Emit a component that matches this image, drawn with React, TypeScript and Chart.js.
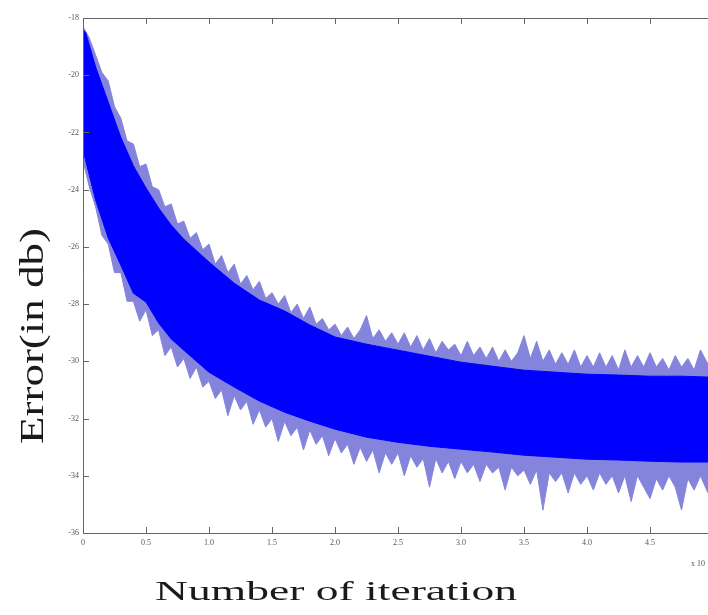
import React, { useEffect, useRef } from 'react';
import { Chart, registerables } from 'chart.js';

Chart.register(...registerables);

// ---- text ----
const X_TITLE = 'Number of iteration';
const Y_TITLE = 'Error(in db)';
const X_EXPONENT = 'x 10';
const X_EXPONENT_POWER = '4';

// ---- axes (x in units of 10^4 iterations, y in dB) ----
const X_MIN = 0;
const X_MAX = 4.96;
const X_STEP = 0.5;
const Y_MIN = -36;
const Y_MAX = -18;
const Y_STEP = 2;

// ---- dense core of the error band ----
const coreX = [0, 0.02, 0.1, 0.2, 0.3, 0.4, 0.5, 0.6, 0.7, 0.8, 1.0, 1.2, 1.4, 1.6, 1.8, 2.0, 2.25, 2.5, 2.75, 3.0, 3.25, 3.5, 3.75, 4.0, 4.25, 4.5, 4.75, 4.96];
const coreUpper = [-18.42, -18.49, -19.71, -20.94, -22.17, -23.17, -23.94, -24.64, -25.24, -25.73, -26.53, -27.27, -27.86, -28.24, -28.73, -29.15, -29.4, -29.61, -29.82, -30.03, -30.17, -30.31, -30.38, -30.45, -30.48, -30.52, -30.52, -30.55];
const coreLower = [-22.62, -22.97, -24.36, -25.69, -26.64, -27.62, -27.93, -28.66, -29.22, -29.61, -30.38, -30.9, -31.39, -31.78, -32.09, -32.37, -32.65, -32.83, -32.97, -33.07, -33.17, -33.28, -33.35, -33.42, -33.45, -33.49, -33.52, -33.52];

// ---- spiky outer extremes of the error band ----
const spikeX = [
  0, 0.05, 0.1, 0.15, 0.2, 0.25, 0.3, 0.35, 0.4, 0.45,
  0.5, 0.55, 0.6, 0.65, 0.7, 0.75, 0.8, 0.85, 0.9, 0.95,
  1.0, 1.05, 1.1, 1.15, 1.2, 1.25, 1.3, 1.35, 1.4, 1.45,
  1.5, 1.55, 1.6, 1.65, 1.7, 1.75, 1.8, 1.85, 1.9, 1.95,
  2.0, 2.05, 2.1, 2.15, 2.2, 2.25, 2.3, 2.35, 2.4, 2.45,
  2.5, 2.55, 2.6, 2.65, 2.7, 2.75, 2.8, 2.85, 2.9, 2.95,
  3.0, 3.05, 3.1, 3.15, 3.2, 3.25, 3.3, 3.35, 3.4, 3.45,
  3.5, 3.55, 3.6, 3.65, 3.7, 3.75, 3.8, 3.85, 3.9, 3.95,
  4.0, 4.05, 4.1, 4.15, 4.2, 4.25, 4.3, 4.35, 4.4, 4.45,
  4.5, 4.55, 4.6, 4.65, 4.7, 4.75, 4.8, 4.85, 4.9, 4.96,
];
const spikeUpper = [
  -18.3, -18.7, -19.3, -19.9, -20.2, -21.1, -21.5, -22.3, -22.4, -23.2,
  -23.1, -23.9, -24.0, -24.6, -24.5, -25.2, -25.1, -25.7, -25.5, -26.1,
  -25.9, -26.6, -26.3, -26.9, -26.6, -27.3, -27.0, -27.5, -27.2, -27.8,
  -27.6, -28.0, -27.7, -28.3, -28.0, -28.5, -28.1, -28.7, -28.5, -28.9,
  -28.7, -29.1, -28.8, -29.2, -28.9, -28.4, -29.2, -28.9, -29.3, -29.0,
  -29.4, -29.0, -29.5, -29.1, -29.6, -29.2, -29.7, -29.3, -29.6, -29.4,
  -29.8, -29.3, -29.8, -29.5, -29.9, -29.5, -30.0, -29.6, -30.0, -29.7,
  -29.1, -29.9, -29.3, -30.0, -29.6, -30.1, -29.7, -30.1, -29.6, -30.2,
  -29.8, -30.2, -29.7, -30.2, -29.8, -30.3, -29.6, -30.2, -29.8, -30.2,
  -29.7, -30.2, -29.9, -30.3, -29.8, -30.2, -29.9, -30.3, -29.6, -30.1,
];
const spikeLower = [
  -23.0, -23.9, -24.6, -25.6, -25.9, -26.9, -26.9, -27.9, -27.9, -28.6,
  -28.2, -29.1, -28.9, -29.8, -29.5, -30.2, -29.9, -30.6, -30.2, -30.9,
  -30.7, -31.3, -31.0, -31.9, -31.2, -31.7, -31.4, -32.2, -31.7, -32.3,
  -32.0, -32.8, -32.1, -32.6, -32.3, -33.1, -32.4, -32.9, -32.6, -33.3,
  -32.7, -33.2, -32.9, -33.6, -33.0, -33.5, -33.1, -33.9, -33.2, -33.6,
  -33.2, -34.0, -33.3, -33.7, -33.4, -34.4, -33.4, -33.9, -33.5, -34.1,
  -33.5, -33.9, -33.6, -34.2, -33.6, -33.9, -33.7, -34.5, -33.7, -34.0,
  -33.8, -34.3, -33.8, -35.2, -33.9, -34.2, -33.9, -34.6, -33.9, -34.3,
  -34.0, -34.5, -33.9, -34.3, -34.0, -34.6, -34.0, -34.9, -34.0, -34.4,
  -34.8, -34.1, -34.5, -34.0, -34.4, -35.2, -34.1, -34.5, -34.0, -34.6,
];

const CORE_COLOR = '#0000ff';
const SPIKE_COLOR = '#8484dc';
const AXIS_COLOR = '#666666';
const TEXT_COLOR = '#1a1a1a';

const toPoints = (xs: number[], ys: number[]) => xs.map((x, i) => ({ x, y: ys[i] }));

const boxTicksPlugin = {
  id: 'boxTicks',
  afterDraw(chart: any) {
    const { ctx, chartArea, scales } = chart;
    const { left, right, top, bottom } = chartArea;
    const xs = scales.x;
    const ys = scales.y;
    ctx.save();
    ctx.strokeStyle = AXIS_COLOR;
    ctx.lineWidth = 1;
    ctx.beginPath();
    // box: top and left/bottom borders
    ctx.moveTo(left + 0.5, top + 0.5);
    ctx.lineTo(right, top + 0.5);
    ctx.moveTo(left + 0.5, top);
    ctx.lineTo(left + 0.5, bottom + 0.5);
    ctx.lineTo(right, bottom + 0.5);
    xs.ticks.forEach((t: any) => {
      const px = Math.round(xs.getPixelForValue(t.value)) + 0.5;
      ctx.moveTo(px, bottom);
      ctx.lineTo(px, bottom - 6);
      ctx.moveTo(px, top);
      ctx.lineTo(px, top + 6);
    });
    ys.ticks.forEach((t: any) => {
      const py = Math.round(ys.getPixelForValue(t.value)) + 0.5;
      ctx.moveTo(left, py);
      ctx.lineTo(left + 6, py);
    });
    ctx.stroke();
    ctx.restore();
  },
};

const titlesPlugin = {
  id: 'titles',
  afterDraw(chart: any) {
    const { ctx } = chart;
    ctx.save();
    ctx.fillStyle = TEXT_COLOR;
    ctx.textAlign = 'center';
    ctx.textBaseline = 'alphabetic';

    // x title
    ctx.font = '30px "Liberation Serif"';
    const wx = ctx.measureText(X_TITLE).width;
    ctx.save();
    ctx.translate(336, 600);
    ctx.scale(362 / wx, 0.9);
    ctx.fillText(X_TITLE, 0, 0);
    ctx.restore();

    // y title
    ctx.font = '32px "Liberation Serif"';
    const wy = ctx.measureText(Y_TITLE).width;
    ctx.save();
    ctx.translate(43, 336);
    ctx.rotate(-Math.PI / 2);
    ctx.scale(216 / wy, 1.08);
    ctx.fillText(Y_TITLE, 0, 0);
    ctx.restore();

    // exponent of x axis
    ctx.fillStyle = '#555555';
    ctx.textAlign = 'left';
    ctx.font = '8px "Liberation Serif"';
    ctx.fillText(X_EXPONENT, 691, 566);
    ctx.font = '6px "Liberation Serif"';
    ctx.fillText(X_EXPONENT_POWER, 708, 561);
    ctx.restore();
  },
};

export default function App() {
  const canvasRef = useRef<HTMLCanvasElement | null>(null);

  useEffect(() => {
    document.body.style.margin = '0';
    const canvas = canvasRef.current;
    if (!canvas) return;
    const lineBase = {
      pointRadius: 0,
      borderWidth: 1,
      tension: 0,
    };
    const chart = new Chart(canvas, {
      type: 'line',
      data: {
        datasets: [
          {
            ...lineBase,
            label: 'core upper',
            data: toPoints(coreX, coreUpper),
            borderColor: CORE_COLOR,
            backgroundColor: CORE_COLOR,
            fill: '+1',
          },
          {
            ...lineBase,
            label: 'core lower',
            data: toPoints(coreX, coreLower),
            borderColor: CORE_COLOR,
            backgroundColor: CORE_COLOR,
            fill: false,
          },
          {
            ...lineBase,
            label: 'spike upper',
            data: toPoints(spikeX, spikeUpper),
            borderColor: SPIKE_COLOR,
            backgroundColor: SPIKE_COLOR,
            fill: '+1',
          },
          {
            ...lineBase,
            label: 'spike lower',
            data: toPoints(spikeX, spikeLower),
            borderColor: SPIKE_COLOR,
            backgroundColor: SPIKE_COLOR,
            fill: false,
          },
        ],
      },
      options: {
        animation: false,
        responsive: false,
        devicePixelRatio: 1,
        layout: { padding: 0 },
        plugins: {
          legend: { display: false },
          tooltip: { enabled: false },
          title: { display: false },
        },
        scales: {
          x: {
            type: 'linear',
            position: 'bottom',
            min: X_MIN,
            max: X_MAX,
            grid: { display: false, drawTicks: false },
            border: { display: false },
            ticks: {
              stepSize: X_STEP,
              includeBounds: false,
              autoSkip: false,
              maxRotation: 0,
              padding: 5,
              color: '#555555',
              font: { family: '"Liberation Serif"', size: 8 },
            },
            afterFit: (s: any) => {
              s.height = 82;
            },
          },
          xTop: {
            type: 'linear',
            position: 'top',
            min: X_MIN,
            max: X_MAX,
            grid: { display: false },
            border: { display: false },
            ticks: { display: false },
            afterFit: (s: any) => {
              s.height = 18;
            },
          },
          y: {
            type: 'linear',
            min: Y_MIN,
            max: Y_MAX,
            grid: { display: false, drawTicks: false },
            border: { display: false },
            ticks: {
              stepSize: Y_STEP,
              padding: 4,
              color: '#555555',
              font: { family: '"Liberation Serif"', size: 8 },
            },
            afterFit: (s: any) => {
              s.width = 83;
            },
          },
        },
      },
      plugins: [boxTicksPlugin, titlesPlugin],
    });
    return () => chart.destroy();
  }, []);

  return (
    <div style={{ position: 'relative', width: 708, height: 615, overflow: 'hidden', background: '#ffffff' }}>
      <canvas ref={canvasRef} width={708} height={615} />
    </div>
  );
}
